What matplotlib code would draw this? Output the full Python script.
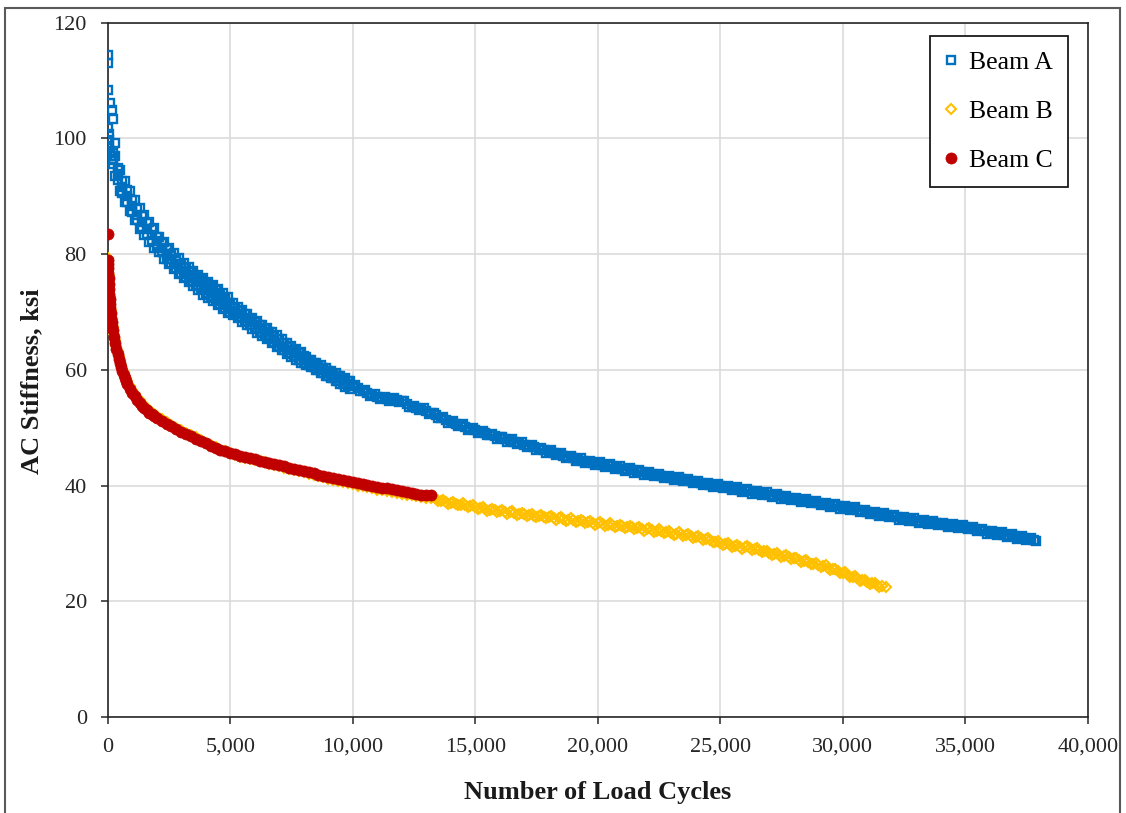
import matplotlib
matplotlib.use("Agg")
import matplotlib.pyplot as plt
from matplotlib.patches import Rectangle
from matplotlib.ticker import FuncFormatter

# ---------------- data ----------------
# Beam A: AC stiffness (ksi) versus number of load cycles
beam_a_cycles = [0, 0, 20, 90, 160, 230, 20, 40, 60, 300, 50, 100, 130, 160,
    200, 400, 600, 800, 1000, 1200, 1400, 1600, 1800, 2000, 2200, 2400, 2600, 2800,
    3000, 3200, 3400, 3600, 3800, 4000, 4200, 4400, 4600, 4800, 5000, 5200, 5400,
    5600, 5800, 6000, 6200, 6400, 6600, 6800, 7000, 7200, 7400, 7600, 7800, 8000,
    8200, 8400, 8600, 8800, 9000, 9200, 9400, 9600, 9800, 10000, 10200, 10400,
    10600, 10800, 11000, 11200, 11400, 11600, 11800, 12000, 12200, 12400, 12600,
    12800, 13000, 13200, 13400, 13600, 13800, 14000, 14200, 14400, 14600, 14800,
    15000, 15200, 15400, 15600, 15800, 16000, 16200, 16400, 16600, 16800, 17000,
    17200, 17400, 17600, 17800, 18000, 18200, 18400, 18600, 18800, 19000, 19200,
    19400, 19600, 19800, 20000, 20200, 20400, 20600, 20800, 21000, 21200, 21400,
    21600, 21800, 22000, 22200, 22400, 22600, 22800, 23000, 23200, 23400, 23600,
    23800, 24000, 24200, 24400, 24600, 24800, 25000, 25200, 25400, 25600, 25800,
    26000, 26200, 26400, 26600, 26800, 27000, 27200, 27400, 27600, 27800, 28000,
    28200, 28400, 28600, 28800, 29000, 29200, 29400, 29600, 29800, 30000, 30200,
    30400, 30600, 30800, 31000, 31200, 31400, 31600, 31800, 32000, 32200, 32400,
    32600, 32800, 33000, 33200, 33400, 33600, 33800, 34000, 34200, 34400, 34600,
    34800, 35000, 35200, 35400, 35600, 35800, 36000, 36200, 36400, 36600, 36800,
    37000, 37200, 37400, 37600, 37800, 37900]
beam_a_ksi = [114.4, 113.0, 108.4, 106.1, 104.9, 103.3, 101.8, 100.8, 99.7, 99.2, 98.6, 97.8, 97.0, 96.3,
    96.5, 93.8, 91.6, 90.0, 88.3, 86.8, 85.6, 84.4, 83.3, 82.2, 81.1, 80.0, 79.2, 78.3,
    77.5, 76.8, 76.1, 75.4, 74.7, 74.1, 73.5, 72.9, 72.2, 71.5, 70.8, 70.2, 69.6,
    69.0, 68.3, 67.7, 67.1, 66.5, 66.0, 65.3, 64.7, 64.0, 63.4, 62.9, 62.3, 61.8,
    61.3, 60.8, 60.3, 59.9, 59.4, 58.9, 58.5, 58.0, 57.6, 57.2, 56.8, 56.4,
    56.0, 55.6, 55.3, 55.1, 55.0, 54.9, 54.8, 54.6, 54.1, 53.6, 53.4,
    53.2, 52.9, 52.5, 52.1, 51.7, 51.3, 51.0, 50.7, 50.4, 50.1, 49.8,
    49.6, 49.3, 49.1, 48.8, 48.5, 48.3, 48.0, 47.8, 47.5, 47.3, 47.0,
    46.8, 46.6, 46.3, 46.1, 45.9, 45.6, 45.4, 45.1, 44.9, 44.7, 44.5,
    44.3, 44.1, 43.9, 43.8, 43.6, 43.4, 43.3, 43.1, 42.9, 42.8, 42.6,
    42.4, 42.3, 42.1, 41.95, 41.8, 41.65, 41.5, 41.35, 41.2, 41.05, 40.9,
    40.75, 40.6, 40.45, 40.3, 40.15, 40.0, 39.9, 39.75, 39.6, 39.45, 39.3,
    39.15, 39.0, 38.85, 38.7, 38.55, 38.4, 38.25, 38.1, 38.0, 37.85, 37.7,
    37.55, 37.4, 37.25, 37.1, 36.95, 36.8, 36.65, 36.5, 36.4, 36.25, 36.1,
    35.95, 35.8, 35.65, 35.45, 35.3, 35.15, 35.0, 34.85, 34.7, 34.5, 34.35,
    34.2, 34.1, 33.95, 33.85, 33.7, 33.6, 33.45, 33.35, 33.2, 33.1, 33.0,
    32.85, 32.75, 32.6, 32.45, 32.3, 32.1, 31.95, 31.8, 31.65, 31.5, 31.35,
    31.2, 31.0, 30.85, 30.7, 30.5, 30.4]

# Beam A: outer readings of the scattered band during early cycling
beam_a_spread_cycles = [300, 300, 500, 500, 700, 700, 900, 900, 1100, 1100, 1300, 1300,
    1500, 1500, 1700, 1700, 1900, 1900, 2100, 2100, 2300, 2300, 2500, 2500, 2700, 2700,
    2900, 2900, 3100, 3100, 3300, 3300, 3500, 3500, 3700, 3700, 3900, 3900, 4100, 4100,
    4300, 4300, 4500, 4500, 4700, 4700, 4900, 4900, 5100, 5100, 5300, 5300, 5500, 5500,
    5700, 5700, 5900, 5900, 6100, 6100, 6300, 6300, 6500, 6500, 6700, 6700, 6900, 6900,
    7100, 7100, 7300, 7300, 7500, 7500, 7700, 7700, 7900, 7900, 8100, 8100, 8300, 8300,
    8500, 8500, 8700, 8700, 8900, 8900, 9100, 9100, 9300, 9300, 9500, 9500, 9700, 9700,
    9900, 9900]
beam_a_spread_ksi = [96.9, 93.4, 94.5, 90.9, 92.6, 89.0, 90.9, 87.4, 89.3, 85.8, 88.0, 84.4,
    86.8, 83.2, 85.6, 82.0, 84.5, 81.0, 83.0, 80.3, 82.0, 79.2, 81.0, 78.2, 80.1, 77.4,
    79.3, 76.5, 78.5, 75.8, 77.8, 75.1, 77.1, 74.4, 76.4, 73.7, 75.8, 73.0, 75.2, 72.4,
    74.6, 71.8, 73.9, 71.2, 73.2, 70.5, 72.5, 69.8, 71.5, 69.5, 70.9, 68.9, 70.3, 68.3,
    69.6, 67.7, 69.0, 67.0, 68.4, 66.4, 67.8, 65.8, 67.2, 65.3, 66.6, 64.7, 66.0, 64.0,
    65.3, 63.4, 64.7, 62.7, 64.1, 62.2, 63.6, 61.6, 63.0, 61.1, 62.2, 60.9, 61.7, 60.4,
    61.2, 59.9, 60.8, 59.4, 60.3, 59.0, 59.8, 58.5, 59.4, 58.0, 58.9, 57.6, 58.5, 57.1,
    58.1, 56.7]

# Beam A: inner readings of the early band
beam_a_band_cycles = [200, 200, 400, 400, 600, 600, 800, 800, 1000, 1000, 1200, 1200,
    1400, 1400, 1600, 1600, 1800, 1800, 2000, 2000, 2200, 2200, 2400, 2400, 2600, 2600,
    2800, 2800, 3000, 3000, 3200, 3200, 3400, 3400, 3600, 3600, 3800, 3800, 4000, 4000,
    4200, 4200, 4400, 4400, 4600, 4600, 4800, 4800, 5000, 5000, 5200, 5200, 5400, 5400,
    5600, 5600, 5800, 5800, 6000, 6000, 6200, 6200, 6400, 6400, 6600, 6600, 6800, 6800,
    7000, 7000, 7200, 7200, 7400, 7400, 7600, 7600, 7800, 7800, 8000, 8000, 8200, 8200,
    8400, 8400, 8600, 8600, 8800, 8800, 9000, 9000, 9200, 9200, 9400, 9400, 9600, 9600,
    9800, 9800]
beam_a_band_ksi = [97.5, 95.5, 94.8, 92.8, 92.6, 90.6, 91.0, 89.0, 89.3, 87.3, 87.8, 85.8,
    86.6, 84.6, 85.4, 83.4, 84.3, 82.3, 83.0, 81.4, 81.9, 80.3, 80.8, 79.2, 80.0, 78.4,
    79.1, 77.5, 78.3, 76.7, 77.6, 76.0, 76.9, 75.3, 76.2, 74.6, 75.5, 73.9, 74.9, 73.3,
    74.3, 72.7, 73.7, 72.1, 73.0, 71.4, 72.3, 70.7, 71.6, 70.0, 70.75, 69.65, 70.15, 69.05,
    69.55, 68.45, 68.85, 67.75, 68.25, 67.15, 67.65, 66.55, 67.05, 65.95, 66.55, 65.45, 65.85, 64.75,
    65.25, 64.15, 64.55, 63.45, 63.95, 62.85, 63.45, 62.35, 62.85, 61.75, 62.35, 61.25, 61.7, 60.9,
    61.2, 60.4, 60.7, 59.9, 60.3, 59.5, 59.8, 59.0, 59.3, 58.5, 58.9, 58.1, 58.4, 57.6,
    58.0, 57.2]

# Beam A: intermediate readings after 10,000 cycles
beam_a_late_cycles = [10100, 10300, 10500, 10700, 10900, 11100, 11300, 11500, 11700, 11900,
    12100, 12300, 12500, 12700, 12900, 13100, 13300, 13500, 13700, 13900, 14100, 14300,
    14500, 14700, 14900, 15100, 15300, 15500, 15700, 15900, 16100, 16300, 16500, 16700,
    16900, 17100, 17300, 17500, 17700, 17900, 18100, 18300, 18500, 18700, 18900, 19100,
    19300, 19500, 19700, 19900, 20100, 20300, 20500, 20700, 20900, 21100, 21300, 21500,
    21700, 21900, 22100, 22300, 22500, 22700, 22900, 23100, 23300, 23500, 23700, 23900,
    24100, 24300, 24500, 24700, 24900, 25100, 25300, 25500, 25700, 25900, 26100, 26300,
    26500, 26700, 26900, 27100, 27300, 27500, 27700, 27900, 28100, 28300, 28500, 28700,
    28900, 29100, 29300, 29500, 29700, 29900, 30100, 30300, 30500, 30700, 30900, 31100,
    31300, 31500, 31700, 31900, 32100, 32300, 32500, 32700, 32900, 33100, 33300, 33500,
    33700, 33900, 34100, 34300, 34500, 34700, 34900, 35100, 35300, 35500, 35700, 35900,
    36100, 36300, 36500, 36700, 36900, 37100, 37300, 37500, 37700]
beam_a_late_ksi = [57.3, 56.3, 56.5, 55.5, 55.75, 54.9, 55.35, 54.65, 55.15, 54.4,
    54.65, 53.55, 53.8, 53.0, 53.35, 52.4, 52.6, 51.6, 51.8, 50.85, 51.15, 50.25,
    50.55, 49.65, 50.0, 49.15, 49.5, 48.65, 48.95, 48.1, 48.45, 47.6, 47.95, 47.1,
    47.45, 46.6, 47.0, 46.15, 46.5, 45.7, 46.05, 45.2, 45.55, 44.7, 45.1, 44.3,
    44.7, 43.9, 44.3, 43.55, 44.0, 43.2, 43.65, 42.9, 43.3, 42.55, 43.0, 42.2,
    42.65, 41.9, 42.3, 41.6, 42.0, 41.3, 41.7, 41.0, 41.4, 40.7, 41.1, 40.4,
    40.8, 40.1, 40.5, 39.8, 40.25, 39.5, 40.0, 39.2, 39.7, 38.9, 39.4, 38.6,
    39.1, 38.3, 38.8, 38.0, 38.5, 37.75, 38.2, 37.5, 37.9, 37.2, 37.6, 36.9,
    37.3, 36.6, 37.0, 36.3, 36.75, 36.0, 36.5, 35.7, 36.2, 35.4, 35.85, 35.1,
    35.5, 34.8, 35.2, 34.5, 34.9, 34.1, 34.6, 33.85, 34.3, 33.6, 34.1, 33.35,
    33.8, 33.1, 33.6, 32.85, 33.35, 32.6, 33.1, 32.4, 32.8, 32.1, 32.5, 31.7,
    32.2, 31.4, 31.9, 31.1, 31.6, 30.8, 31.2, 30.5, 30.9]

# Beam B
beam_b_cycles = [0, 10, 20, 30, 40, 50, 60, 70, 80, 90, 100, 120, 140, 160, 180, 200,
    250, 300, 350, 400, 450, 500, 550, 600, 650, 700, 750, 800, 900, 1000, 1100, 1200,
    1300, 1400, 1500, 1600, 1700, 1800, 1900, 2000, 2200, 2400, 2600, 2800, 3000, 3200,
    3400, 3600, 3800, 4000, 4200, 4400, 4600, 4800, 5000, 5200, 5400, 5600, 5800, 6000,
    6200, 6400, 6600, 6800, 7000, 7200, 7400, 7600, 7800, 8000, 8200, 8400, 8600, 8800,
    9000, 9200, 9400, 9600, 9800, 10000, 10200, 10400, 10600, 10800, 11000, 11200,
    11400, 11600, 11800, 12000, 12200, 12400, 12600, 12800, 13000, 13200, 13400, 13600,
    13800, 14000, 14200, 14400, 14600, 14800, 15000, 15200, 15400, 15600, 15800, 16000,
    16200, 16400, 16600, 16800, 17000, 17200, 17400, 17600, 17800, 18000, 18200, 18400,
    18600, 18800, 19000, 19200, 19400, 19600, 19800, 20000, 20200, 20400, 20600, 20800,
    21000, 21200, 21400, 21600, 21800, 22000, 22200, 22400, 22600, 22800, 23000, 23200,
    23400, 23600, 23800, 24000, 24200, 24400, 24600, 24800, 25000, 25200, 25400, 25600,
    25800, 26000, 26200, 26400, 26600, 26800, 27000, 27200, 27400, 27600, 27800, 28000,
    28200, 28400, 28600, 28800, 29000, 29200, 29400, 29600, 29800, 30000, 30200, 30400,
    30600, 30800, 31000, 31200, 31400, 31600, 31750]
beam_b_ksi = [79.3, 78.8, 78.0, 77.2, 76.3, 75.4, 74.5, 73.6, 72.7, 71.9, 71.1, 70.3, 69.5, 68.7, 68.0, 67.4,
    66.2, 65.1, 64.1, 63.2, 62.4, 61.6, 60.9, 60.2, 59.6, 59.0, 58.5, 58.0, 57.2, 56.5, 55.8, 55.2,
    54.7, 54.2, 53.8, 53.4, 53.0, 52.6, 52.3, 52.0, 51.5, 51.0, 50.5, 50.0, 49.6, 49.1,
    48.7, 48.3, 47.9, 47.4, 47.0, 46.6, 46.2, 45.9, 45.6, 45.3, 45.0, 44.8, 44.6, 44.4,
    44.2, 44.0, 43.7, 43.5, 43.3, 43.1, 42.9, 42.7, 42.5, 42.3, 42.0, 41.8, 41.6, 41.4,
    41.2, 41.0, 40.8, 40.6, 40.4, 40.2, 40.0, 39.9, 39.7, 39.5, 39.3, 39.2,
    39.0, 38.9, 38.7, 38.6, 38.4, 38.3, 38.1, 38.0, 37.9, 37.8, 37.6, 37.4,
    37.2, 37.0, 36.85, 36.7, 36.55, 36.4, 36.25, 36.1, 35.95, 35.85, 35.7, 35.6,
    35.45, 35.35, 35.2, 35.1, 35.0, 34.9, 34.8, 34.7, 34.6, 34.5, 34.4, 34.3,
    34.2, 34.1, 34.0, 33.9, 33.8, 33.65, 33.55, 33.45, 33.35, 33.25, 33.15, 33.05,
    32.95, 32.85, 32.75, 32.6, 32.5, 32.4, 32.3, 32.2, 32.1, 32.0, 31.85, 31.7,
    31.6, 31.45, 31.3, 31.15, 31.0, 30.8, 30.55, 30.3, 30.1, 29.95, 29.8, 29.6,
    29.45, 29.3, 29.15, 29.0, 28.8, 28.6, 28.4, 28.2, 28.0, 27.8, 27.6, 27.4,
    27.2, 27.0, 26.75, 26.5, 26.3, 26.05, 25.8, 25.5, 25.2, 24.9, 24.6, 24.25,
    23.95, 23.65, 23.35, 23.1, 22.85, 22.6, 22.4]

# Beam B: intermediate readings after 13,000 cycles
beam_b_late_cycles = [13300, 13500, 13700, 13900, 14100, 14300, 14500, 14700, 14900, 15100,
    15300, 15500, 15700, 15900, 16100, 16300, 16500, 16700, 16900, 17100, 17300, 17500,
    17700, 17900, 18100, 18300, 18500, 18700, 18900, 19100, 19300, 19500, 19700, 19900,
    20100, 20300, 20500, 20700, 20900, 21100, 21300, 21500, 21700, 21900, 22100, 22300,
    22500, 22700, 22900, 23100, 23300, 23500, 23700, 23900, 24100, 24300, 24500, 24700,
    24900, 25100, 25300, 25500, 25700, 25900, 26100, 26300, 26500, 26700, 26900, 27100,
    27300, 27500, 27700, 27900, 28100, 28300, 28500, 28700, 28900, 29100, 29300, 29500,
    29700, 29900, 30100, 30300, 30500, 30700, 30900, 31100, 31300, 31500]
beam_b_late_ksi = [37.95, 37.25, 37.55, 36.85, 37.2, 36.55, 36.9, 36.25, 36.6, 35.95,
    36.3, 35.65, 36.0, 35.4, 35.8, 35.15, 35.55, 34.9, 35.3, 34.7, 35.1, 34.5,
    34.9, 34.3, 34.7, 34.1, 34.5, 33.9, 34.3, 33.7, 34.1, 33.5, 33.85, 33.25,
    33.65, 33.05, 33.45, 32.85, 33.25, 32.65, 33.05, 32.4, 32.8, 32.2, 32.6, 32.0,
    32.4, 31.8, 32.2, 31.5, 31.9, 31.3, 31.6, 31.0, 31.3, 30.65, 30.9, 30.2,
    30.45, 29.8, 30.1, 29.45, 29.8, 29.1, 29.5, 28.8, 29.15, 28.45, 28.75, 28.05,
    28.35, 27.65, 27.95, 27.25, 27.55, 26.85, 27.1, 26.4, 26.65, 25.9, 26.2, 25.4,
    25.6, 24.8, 25.0, 24.2, 24.35, 23.55, 23.75, 23.0, 23.2, 22.5]

# Beam C
beam_c_cycles = [0, 0, 10, 20, 30, 40, 50, 60, 70, 80, 90, 100, 120, 140, 160, 180, 200,
    250, 300, 350, 400, 450, 500, 550, 600, 650, 700, 750, 800, 900, 1000, 1100, 1200,
    1300, 1400, 1500, 1600, 1700, 1800, 1900, 2000, 2200, 2400, 2600, 2800, 3000, 3200,
    3400, 3600, 3800, 4000, 4200, 4400, 4600, 4800, 5000, 5200, 5400, 5600, 5800, 6000,
    6200, 6400, 6600, 6800, 7000, 7200, 7400, 7600, 7800, 8000, 8200, 8400, 8600, 8800,
    9000, 9200, 9400, 9600, 9800, 10000, 10200, 10400, 10600, 10800, 11000, 11200,
    11400, 11600, 11800, 12000, 12200, 12400, 12600, 12800, 13000, 13200]
beam_c_ksi = [83.5, 79.0, 78.3, 77.5, 76.7, 75.8, 74.9, 74.0, 73.1, 72.2, 71.4, 70.6, 69.8, 69.0, 68.2, 67.5, 66.9,
    65.7, 64.6, 63.6, 62.7, 61.9, 61.1, 60.4, 59.7, 59.1, 58.5, 58.0, 57.5, 56.7, 56.0, 55.4, 54.8,
    54.3, 53.8, 53.4, 53.0, 52.6, 52.3, 52.0, 51.7, 51.2, 50.7, 50.2, 49.7, 49.3, 48.9,
    48.5, 48.1, 47.7, 47.3, 46.9, 46.5, 46.2, 45.9, 45.6, 45.4, 45.1, 44.9, 44.7, 44.5,
    44.3, 44.1, 43.9, 43.7, 43.5, 43.3, 43.1, 42.9, 42.7, 42.5, 42.3, 42.1, 41.9, 41.7,
    41.5, 41.3, 41.2, 41.0, 40.8, 40.6, 40.5, 40.3, 40.1, 39.9, 39.7, 39.6,
    39.5, 39.4, 39.3, 39.1, 38.9, 38.7, 38.6, 38.4, 38.4, 38.3]

series_labels = ["Beam A", "Beam B", "Beam C"]
x_ticks = [0, 5000, 10000, 15000, 20000, 25000, 30000, 35000, 40000]
y_ticks = [0, 20, 40, 60, 80, 100, 120]

# ---------------- figure ----------------
plt.rcParams['font.family'] = ['Liberation Serif', 'DejaVu Serif']

fig = plt.figure(figsize=(11.26, 8.13), dpi=100)
ax = fig.add_axes([0.09565, 0.11808, 0.87034, 0.85424])

blue = '#0070C0'
gold = '#FFC000'
red = '#C00000'

a_x = beam_a_cycles + beam_a_spread_cycles + beam_a_band_cycles + beam_a_late_cycles
a_y = beam_a_ksi + beam_a_spread_ksi + beam_a_band_ksi + beam_a_late_ksi
b_x = beam_b_cycles + beam_b_late_cycles
b_y = beam_b_ksi + beam_b_late_ksi

ax.plot(a_x, a_y, linestyle='none', marker='s', markersize=6.3, markerfacecolor='none',
        markeredgecolor=blue, markeredgewidth=1.7, label=series_labels[0], zorder=3)
ax.plot(b_x, b_y, linestyle='none', marker='D', markersize=5.0,
        markerfacecolor='none', markeredgecolor=gold, markeredgewidth=1.5,
        label=series_labels[1], zorder=3)
ax.plot(beam_c_cycles, beam_c_ksi, linestyle='none', marker='o', markersize=8,
        markerfacecolor=red, markeredgecolor=red, markeredgewidth=0.5,
        label=series_labels[2], zorder=4)

ax.set_xlim(x_ticks[0], x_ticks[-1])
ax.set_ylim(y_ticks[0], y_ticks[-1])
ax.set_xticks(x_ticks)
ax.set_yticks(y_ticks)
ax.xaxis.set_major_formatter(FuncFormatter(lambda v, p: f"{v:,.0f}"))

ax.grid(True, color='#D9D9D9', linewidth=1.1)
ax.set_axisbelow(True)
for s in ax.spines.values():
    s.set_color('#262626')
    s.set_linewidth(1.2)
ax.tick_params(direction='out', length=5, width=1.1, color='#262626',
               labelsize=16, labelcolor='#262626', pad=10)

ax.set_xlabel('Number of Load Cycles', fontsize=19, fontweight='bold', color='#1a1a1a')
ax.set_ylabel('AC Stiffness, ksi', fontsize=19, fontweight='bold', color='#1a1a1a')
ax.xaxis.set_label_coords(0.5, -0.092)
ax.yaxis.set_label_coords(-0.066, 0.484)

leg = ax.legend(loc='upper right', bbox_to_anchor=(0.9799, 0.9806), borderaxespad=0,
                fontsize=18.5, frameon=True, fancybox=False, framealpha=1,
                edgecolor='#1a1a1a', handlelength=0.4, handletextpad=0.5,
                labelspacing=1.0, borderpad=0.6, markerscale=1.0)
leg.get_frame().set_linewidth(1.3)

# outer frame around the chart area
fig.patches.append(Rectangle((0.0044, -0.02), 0.9903, 1.0102, transform=fig.transFigure,
                             fill=False, edgecolor='#595959', linewidth=1.5))

fig.savefig('out.png', dpi=100)
